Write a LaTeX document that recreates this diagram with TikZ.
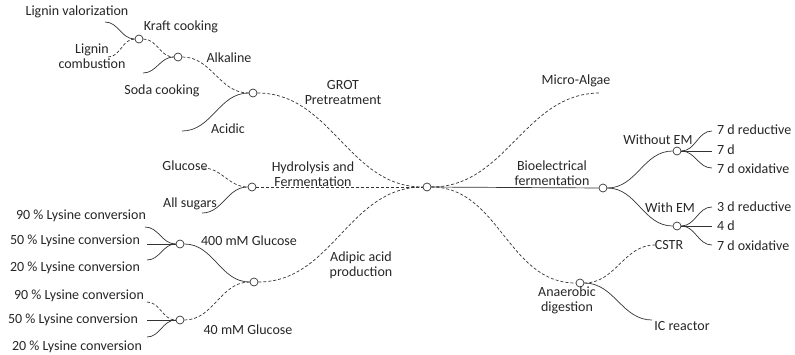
\documentclass[tikz,border=0pt]{standalone}
\usepackage{fontspec}
\setmainfont{Carlito}
\usepackage{tikz}
\usetikzlibrary{calc}

\tikzset{
  hub/.style={circle,draw=black!80,fill=white,line width=0.7pt,inner sep=0pt,minimum size=8pt},
  lbl/.style={inner sep=0pt,text=black!85,font=\fontsize{14}{15}\selectfont,align=center},
  link/.style={draw=black!80,line width=0.7pt},
  dlink/.style={link,dash pattern=on 3pt off 2pt}
}

\begin{document}
\begin{tikzpicture}[x=1pt,y=-1pt]
  % Boundary
  \path[use as bounding box] (0,0) rectangle (795,354);
  % Hubs
  \node[hub] (kraft) at (139,39) {};
  \node[hub] (alkaline) at (178,57) {};
  \node[hub] (grot) at (253,93) {};
  \node[hub] (hydro) at (252,187) {};
  \node[hub] (root) at (427,187) {};
  \node[hub] (glc400) at (180,244) {};
  \node[hub] (adipic) at (254,282) {};
  \node[hub] (glc40) at (180,320) {};
  \node[hub] (bioel) at (603,188) {};
  \node[hub] (woem) at (677,151) {};
  \node[hub] (wem) at (677,226) {};
  \node[hub] (anaer) at (580,283) {};
  % Leaf ends
  \coordinate (lv) at (105,22);
  \coordinate (lc) at (108,57);
  \coordinate (sc) at (143,73);
  \coordinate (ac) at (182,131);
  \coordinate (gl) at (203,168);
  \coordinate (as) at (202,213);
  \coordinate (a90) at (145,227);
  \coordinate (a50) at (147,244);
  \coordinate (a20) at (147,260);
  \coordinate (b90) at (147,302);
  \coordinate (b50) at (147,320);
  \coordinate (b20) at (147,337);
  \coordinate (ma) at (600,93);
  \coordinate (r1) at (712,131);
  \coordinate (r2) at (712,151);
  \coordinate (r3) at (712,168);
  \coordinate (r4) at (712,207);
  \coordinate (r5) at (712,226);
  \coordinate (r6) at (712,245);
  \coordinate (cs) at (655,245);
  \coordinate (ic) at (652,320);
  % Left branches
  \draw[link] (lv) to[out=0,in=180] (kraft);
  \draw[dlink] (lc) to[out=0,in=180] (kraft);
  \draw[dlink] (kraft) to[out=0,in=180] (alkaline);
  \draw[link] (sc) to[out=0,in=180] (alkaline);
  \draw[dlink] (alkaline) to[out=0,in=180] (grot);
  \draw[link] (ac) to[out=0,in=180] (grot);
  \draw[dlink] (grot) to[out=0,in=180] (root);
  \draw[dlink] (gl) to[out=0,in=180] (hydro);
  \draw[link] (as) to[out=0,in=180] (hydro);
  \draw[dlink] (hydro) -- (root);
  \draw[link] (a90) to[out=0,in=180] (glc400);
  \draw[link] (a50) -- (glc400);
  \draw[link] (a20) to[out=0,in=180] (glc400);
  \draw[dlink] (b90) to[out=0,in=180] (glc40);
  \draw[link] (b50) -- (glc40);
  \draw[link] (b20) to[out=0,in=180] (glc40);
  \draw[link] (glc400) to[out=0,in=180] (adipic);
  \draw[dlink] (glc40) to[out=0,in=180] (adipic);
  \draw[dlink] (adipic) to[out=0,in=180] (root);
  % Right branches
  \draw[dlink] (root) to[out=0,in=180] (ma);
  \draw[link] (root) -- (bioel);
  \draw[dlink] (root) to[out=0,in=180] (anaer);
  \draw[link] (bioel) to[out=0,in=180] (woem);
  \draw[link] (bioel) to[out=0,in=180] (wem);
  \draw[link] (woem) to[out=0,in=180] (r1);
  \draw[link] (woem) -- (r2);
  \draw[link] (woem) to[out=0,in=180] (r3);
  \draw[link] (wem) to[out=0,in=180] (r4);
  \draw[link] (wem) -- (r5);
  \draw[link] (wem) to[out=0,in=180] (r6);
  \draw[dlink] (anaer) to[out=0,in=180] (cs);
  \draw[link] (anaer) to[out=0,in=180] (ic);
  % Labels
  \node[lbl] (t-lv) at (77,12) {Lignin valorization};
  \node[lbl] (t-kraft) at (181,27) {Kraft cooking};
  \node[lbl] (t-lc) at (92,56) {Lignin\\combustion};
  \node[lbl] (t-alk) at (229,58) {Alkaline};
  \node[lbl] (t-soda) at (162,91) {Soda cooking};
  \node[lbl] (t-grot) at (343,93) {GROT\\Pretreatment};
  \node[lbl] (t-acid) at (228,129) {Acidic};
  \node[lbl] (t-gl) at (185,166) {Glucose};
  \node[lbl] (t-hydro) at (313,174) {Hydrolysis and\\Fermentation};
  \node[lbl] (t-as) at (190,204) {All sugars};
  \node[lbl] (t-a90) at (81,216) {90 \% Lysine conversion};
  \node[lbl] (t-a50) at (75,241) {50 \% Lysine conversion};
  \node[lbl] (t-a20) at (75,268) {20 \% Lysine conversion};
  \node[lbl] (t-g400) at (249,241) {400 mM Glucose};
  \node[lbl] (t-adip) at (361,265) {Adipic acid\\production};
  \node[lbl] (t-b90) at (79,296) {90 \% Lysine conversion};
  \node[lbl] (t-b50) at (73,320) {50 \% Lysine conversion};
  \node[lbl] (t-b20) at (77,347) {20 \% Lysine conversion};
  \node[lbl] (t-g40) at (248,330) {40 mM Glucose};
  \node[lbl] (t-ma) at (576,81) {Micro-Algae};
  \node[lbl] (t-bioel) at (552,173) {Bioelectrical\\fermentation};
  \node[lbl] (t-woem) at (658,140) {Without EM};
  \node[lbl] (t-wem) at (670,208) {With EM};
  \node[lbl,anchor=west] (t-r1) at (717,130) {7 d reductive};
  \node[lbl,anchor=west] (t-r2) at (717,150) {7 d};
  \node[lbl,anchor=west] (t-r3) at (717,169) {7 d oxidative};
  \node[lbl,anchor=west] (t-r4) at (717,207) {3 d reductive};
  \node[lbl,anchor=west] (t-r5) at (717,226) {4 d};
  \node[lbl,anchor=west] (t-r6) at (717,246) {7 d oxidative};
  \node[lbl] (t-cs) at (669,245) {CSTR};
  \node[lbl] (t-anaer) at (567,300) {Anaerobic\\digestion};
  \node[lbl] (t-ic) at (682,326) {IC reactor};
\end{tikzpicture}
\end{document}
